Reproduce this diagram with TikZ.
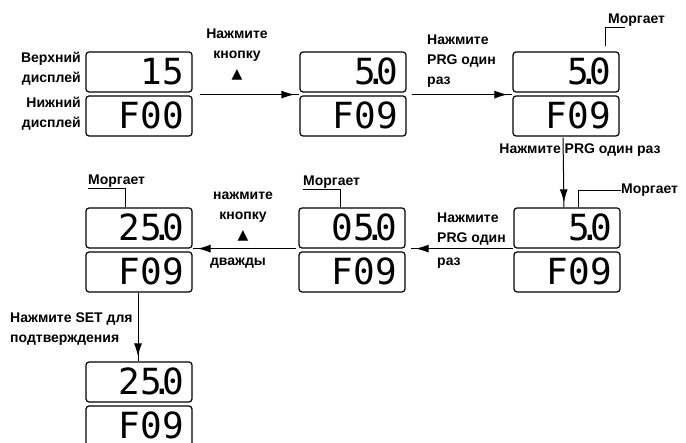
\documentclass[tikz,border=0pt]{standalone}
\usepackage{fontspec}
\setmainfont{Liberation Sans}
\newfontfamily\lcdfont{DejaVu Sans Mono}
\newfontfamily\symfont{DejaVu Sans}
\usetikzlibrary{arrows.meta,decorations.markings}
\tikzset{lcd/.style={draw,line width=1.2pt,rounded corners=3pt,text width=90pt,align=right,
    inner xsep=8pt,inner ysep=7pt,text height=26pt,text depth=0pt,
    font=\lcdfont\fontsize{36}{36}\selectfont},
  lbl/.style={font=\bfseries\fontsize{14}{20}\selectfont,inner sep=0pt},
  flow/.style={line width=1pt,postaction={decorate},
    decoration={markings,mark=at position -5pt with {\arrow{Latex[length=13pt,width=8pt]}}}},
  blink/.style={line width=0.9pt}}
\newcommand\lcddot{\makebox[0pt]{.}}

\begin{document}
\begin{tikzpicture}[x=1pt,y=-1pt] % 像素坐标
            \useasboundingbox (0,0) rectangle (686,443);
            % 显示屏
            \node[lcd] (d1t) at (139,72) {15};
            \node[lcd] (d1b) at (139,116) {F00};
            \node[lcd] (d2t) at (353,72) {5\lcddot0};
            \node[lcd] (d2b) at (353,116) {F09};
            \node[lcd] (d3t) at (566,72) {5\lcddot0};
            \node[lcd] (d3b) at (566,116) {F09};
            \node[lcd] (d4t) at (567,228) {5\lcddot0};
            \node[lcd] (d4b) at (567,272) {F09};
            \node[lcd] (d5t) at (352,228) {05\lcddot0};
            \node[lcd] (d5b) at (352,272) {F09};
            \node[lcd] (d6t) at (139,228) {25\lcddot0};
            \node[lcd] (d6b) at (139,272) {F09};
            \node[lcd] (d7t) at (139,382) {25\lcddot0};
            \node[lcd] (d7b) at (139,426) {F09};
            % 文字
            \node[lbl,anchor=east,align=right] (up) at (81,69) {Верхний\\дисплей};
            \node[lbl,anchor=east,align=right] (low) at (81,114) {Нижний\\дисплей};
            \node[lbl,align=center] (s1) at (237,55) {Нажмите\\кнопку\\{\symfont ▲}};
            \node[lbl,anchor=west,align=left] (s2) at (427,61) {Нажмите\\PRG один\\раз};
            \node[lbl] (s3) at (580,150) {Нажмите PRG один раз};
            \node[lbl,anchor=west,align=left] (s4) at (437,241) {Нажмите\\PRG один\\[3pt]раз};
            \node[lbl,anchor=south,align=center] (s5) at (243,241) {нажмите\\кнопку\\{\symfont ▲}};
            \node[lbl,anchor=north] (s5b) at (238,258) {дважды};
            \node[lbl,anchor=west,align=left] (s6) at (10,329) {Нажмите SET для\\подтверждения};
            \node[lbl,anchor=south west] (m3) at (608,27) {Моргает};
            \node[lbl,anchor=west] (m4) at (621,190) {Моргает};
            \node[lbl,anchor=south west] (m5) at (303,189) {Моргает};
            \node[lbl,anchor=south west] (m6) at (88,188) {Моргает};
            % 箭头
            \draw[flow] ([xshift=7pt,yshift=-2pt]d1t.south east) -- ([yshift=-2pt]d2t.south west);
            \draw[flow] ([xshift=5pt,yshift=-2pt]d2t.south east) -- ([yshift=-2pt]d3t.south west);
            \draw[flow] ([xshift=-3pt,yshift=-1pt]d3b.south) -- ([xshift=-3pt]d4t.north);
            \draw[flow] (d4t.south west) -- ([xshift=5pt]d5t.south east);
            \draw[flow] ([xshift=-2pt]d5t.south west) -- (d6t.south east);
            \draw[flow] ([xshift=-1pt]d6b.south) -- ([xshift=-1pt]d7t.north);
            % 闪烁标记
            \draw[blink] ([xshift=17pt]m3.south west) -| ([xshift=39pt,yshift=5pt]d3t.north);
            \draw[blink] (m4.west) -| ([xshift=11pt]d4t.north);
            \draw[blink] (m5.south west) -| ([xshift=-12pt]d5t.north);
            \draw[blink] (m6.south west) -| ([xshift=-14pt]d6t.north);
        \end{tikzpicture}
\end{document}
